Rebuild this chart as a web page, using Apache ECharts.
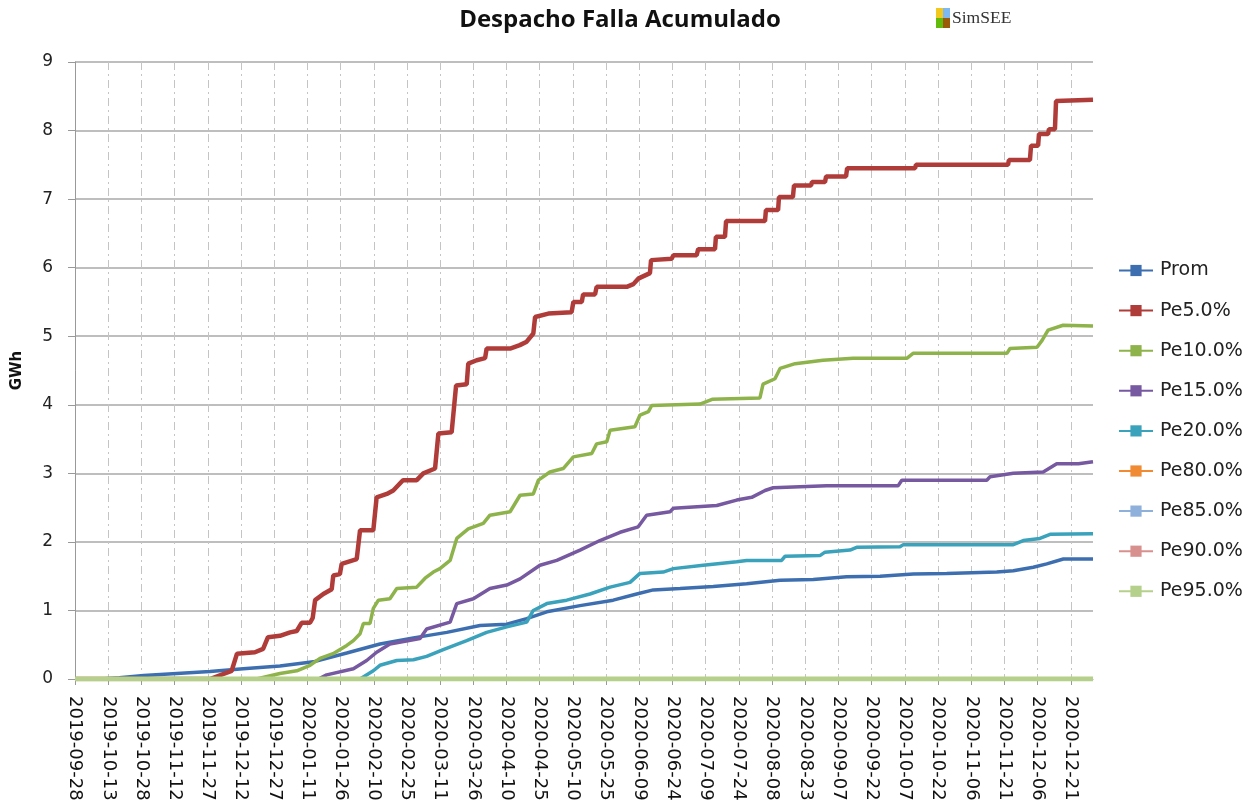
<!DOCTYPE html>
<html>
<head>
<meta charset="utf-8">
<title>Despacho Falla Acumulado</title>
<script src="https://cdn.jsdelivr.net/npm/echarts@6/dist/echarts.min.js"></script>
<style>
  html, body { margin: 0; padding: 0; background: #fff; }
  #chart { width: 1248px; height: 811px; }
</style>
</head>
<body>
<div id="chart"></div>
<script>
// dias desde 2019-09-28
const startDate = Date.UTC(2019, 8, 28)
const lastDay = 460

const promDays = [0, 12, 20, 31, 46, 61, 76, 92.6, 107.7, 122.8, 137.8, 152.9, 168, 183, 195.1, 204.1, 213.2, 228.2, 243.2, 253.8, 261.3, 273.4, 288.4, 303.5, 318.6, 333.6, 348.7, 363.8, 378.8, 393.9, 416.5, 424, 433, 439.1, 446.6, 460]
const promVals = [0, 0, 0.02, 0.05, 0.08, 0.11, 0.15, 0.19, 0.25, 0.38, 0.51, 0.6, 0.68, 0.78, 0.8, 0.88, 0.98, 1.07, 1.15, 1.24, 1.3, 1.32, 1.35, 1.39, 1.44, 1.45, 1.49, 1.5, 1.53, 1.54, 1.56, 1.58, 1.63, 1.68, 1.75, 1.75]

const pe5Days = [0, 61, 70.8, 73.2, 81.3, 85, 87.2, 92.6, 97.2, 100.2, 102.4, 106.2, 107.4, 108.5, 112.2, 116, 116.7, 119.7, 120.5, 127.3, 128.8, 134.8, 136.3, 140.9, 143.8, 148.2, 154.4, 157.4, 162.7, 164.2, 170.2, 172.2, 177, 177.7, 181.5, 185.3, 186, 196.6, 201, 204.1, 207.1, 207.9, 213.9, 224.4, 225.2, 229, 229.6, 235, 235.7, 249.3, 252.3, 254.5, 259.8, 260.3, 269.6, 270.4, 280.9, 281.6, 289.2, 289.6, 293.7, 294.2, 311.8, 312.2, 317.7, 318.1, 324.4, 324.9, 332.6, 333, 338.9, 339.4, 348.4, 348.9, 379.6, 380, 421.6, 422, 431.5, 432, 435.2, 435.6, 439.7, 440.1, 442.8, 443.3, 460]
const pe5Vals = [0, 0, 0.12, 0.37, 0.39, 0.44, 0.61, 0.63, 0.68, 0.7, 0.82, 0.82, 0.89, 1.15, 1.24, 1.31, 1.51, 1.53, 1.68, 1.75, 2.17, 2.17, 2.65, 2.7, 2.75, 2.9, 2.9, 3.0, 3.07, 3.58, 3.6, 4.28, 4.3, 4.6, 4.65, 4.68, 4.82, 4.82, 4.87, 4.92, 5.04, 5.28, 5.33, 5.35, 5.5, 5.5, 5.61, 5.61, 5.72, 5.72, 5.76, 5.84, 5.92, 6.11, 6.13, 6.18, 6.18, 6.27, 6.27, 6.45, 6.45, 6.68, 6.68, 6.84, 6.84, 7.03, 7.03, 7.2, 7.2, 7.25, 7.25, 7.33, 7.33, 7.45, 7.45, 7.5, 7.5, 7.57, 7.57, 7.78, 7.78, 7.95, 7.95, 8.02, 8.02, 8.43, 8.45]

const pe10Days = [0, 82, 92.6, 100.2, 106.2, 110.7, 116.6, 122.8, 125.8, 128.8, 130.3, 133.3, 134.8, 137.1, 142.3, 145.4, 154.4, 158.2, 161.9, 164.9, 169.5, 172.5, 177.7, 184.5, 187.5, 196.6, 201.1, 207.1, 209.4, 214.6, 220.6, 225.2, 233.5, 235.7, 240.3, 241.8, 253, 255.3, 259.1, 260.6, 282.4, 287.9, 309.5, 310.9, 316.3, 318.6, 325.4, 338, 351.6, 376, 378.7, 421.1, 422.5, 434.7, 437, 439.7, 446.5, 460]
const pe10Vals = [0, 0, 0.08, 0.12, 0.2, 0.3, 0.37, 0.49, 0.56, 0.66, 0.81, 0.81, 1.03, 1.15, 1.17, 1.32, 1.34, 1.47, 1.56, 1.61, 1.73, 2.05, 2.19, 2.27, 2.39, 2.44, 2.68, 2.7, 2.9, 3.02, 3.07, 3.24, 3.29, 3.43, 3.46, 3.63, 3.68, 3.85, 3.9, 3.99, 4.01, 4.08, 4.1, 4.3, 4.38, 4.53, 4.6, 4.65, 4.68, 4.68, 4.75, 4.75, 4.82, 4.84, 4.94, 5.09, 5.16, 5.15]

const pe15Days = [0, 110, 113.7, 125.8, 131.8, 136.3, 142.3, 155.9, 158.9, 169.5, 172.5, 180, 187.5, 195.1, 201.1, 210.1, 217.7, 228.2, 237.2, 246.3, 254.5, 258.3, 268.9, 270.4, 290, 299, 305.8, 311.8, 315.5, 339.7, 372, 373.6, 412, 413.5, 424, 437.5, 443.6, 453.4, 460]
const pe15Vals = [0, 0, 0.06, 0.15, 0.27, 0.39, 0.51, 0.59, 0.73, 0.83, 1.1, 1.17, 1.32, 1.37, 1.46, 1.66, 1.73, 1.88, 2.02, 2.14, 2.22, 2.39, 2.44, 2.49, 2.53, 2.61, 2.65, 2.75, 2.79, 2.82, 2.82, 2.9, 2.9, 2.95, 3.0, 3.02, 3.14, 3.14, 3.17]

const pe20Days = [0, 128.8, 134.8, 137.8, 145.4, 152.9, 158.9, 166.4, 177, 186, 195.1, 204.1, 207.1, 213.2, 222.2, 232.7, 241.8, 250.8, 255.3, 265.8, 270.4, 283.9, 299, 303.5, 319.3, 320.8, 336.6, 338.9, 350.2, 353.2, 372.8, 374.3, 424, 428.5, 436, 440.6, 460]
const pe20Vals = [0, 0, 0.12, 0.2, 0.27, 0.28, 0.33, 0.43, 0.56, 0.68, 0.76, 0.83, 1.0, 1.1, 1.15, 1.24, 1.34, 1.41, 1.54, 1.56, 1.61, 1.66, 1.71, 1.73, 1.73, 1.79, 1.8, 1.85, 1.88, 1.92, 1.93, 1.96, 1.96, 2.02, 2.05, 2.11, 2.12]

// Pe80 .. Pe95 quedan en cero todo el periodo
const zeroDays = [0, 460]
const zeroVals = [0, 0]

const seriesNames = ["Prom", "Pe5.0%", "Pe10.0%", "Pe15.0%", "Pe20.0%", "Pe80.0%", "Pe85.0%", "Pe90.0%", "Pe95.0%"]
const seriesColors = ["#3d6fb0", "#b03c39", "#8db34a", "#7659a0", "#3aa2bb", "#f08a33", "#8fb0da", "#d8908e", "#b5d08a"]
const lineWidths = [3.5, 4.5, 3.5, 3.5, 3.5, 4, 4, 4, 5]
const seriesDays = [promDays, pe5Days, pe10Days, pe15Days, pe20Days, zeroDays, zeroDays, zeroDays, zeroDays]
const seriesVals = [promVals, pe5Vals, pe10Vals, pe15Vals, pe20Vals, zeroVals, zeroVals, zeroVals, zeroVals]

function dayLabel(d){
  const dt = new Date(startDate + d * 86400000)
  const mm = String(dt.getUTCMonth() + 1).padStart(2, "0")
  const dd = String(dt.getUTCDate()).padStart(2, "0")
  return dt.getUTCFullYear() + "-" + mm + "-" + dd
}

const series = seriesNames.map((name, i) => ({
  name: name,
  type: "line",
  data: seriesDays[i].map((d, j) => [d, seriesVals[i][j]]),
  showSymbol: false,
  symbol: "rect",
  symbolSize: 5,
  lineStyle: { width: lineWidths[i], color: seriesColors[i] },
  itemStyle: { color: seriesColors[i] },
  animation: false
}))

const chart = echarts.init(document.getElementById("chart"))
chart.setOption({
  backgroundColor: "#fff",
  title: {
    text: "Despacho Falla Acumulado",
    left: 615,
    top: 3,
    textAlign: "center",
    textStyle: { fontFamily: "Open Sans", fontWeight: "bold", fontSize: 24, color: "#111" }
  },
  legend: {
    orient: "vertical",
    left: 1113,
    top: 256,
    itemWidth: 34,
    itemHeight: 14,
    itemGap: 21.1,
    textStyle: { fontFamily: "DejaVu Sans", fontSize: 19, color: "#222", padding: [0, 0, 0, 2] },
    data: seriesNames
  },
  grid: { left: 75, right: 155, top: 62, bottom: 132, outerBoundsMode: "none" },
  xAxis: {
    type: "value",
    min: 0,
    max: lastDay,
    interval: 15,
    axisLine: { lineStyle: { color: "#999" } },
    axisTick: { show: true, length: 6, lineStyle: { color: "#999" } },
    axisLabel: {
      rotate: -90,
      margin: 17,
      fontFamily: "DejaVu Sans",
      fontSize: 18,
      color: "#111",
      showMaxLabel: false,
      formatter: dayLabel
    },
    splitLine: {
      show: true,
      showMaxLine: false,
      lineStyle: { color: "#c4c4c4", type: [8, 4, 2, 4], width: 1 }
    }
  },
  yAxis: {
    type: "value",
    min: 0,
    max: 9,
    interval: 1,
    name: "GWh",
    nameLocation: "middle",
    nameGap: 50,
    nameTextStyle: { fontFamily: "DejaVu Sans", fontWeight: "bold", fontSize: 15, color: "#111" },
    axisLine: { show: true, lineStyle: { color: "#999" } },
    axisTick: { show: true, length: 7, lineStyle: { color: "#999" } },
    axisLabel: { margin: 22, fontFamily: "DejaVu Sans", fontSize: 17, color: "#222" },
    splitLine: { lineStyle: { color: "#a8a8a8", width: 1.5 } }
  },
  graphic: [
    { type: "rect", shape: { x: 936, y: 8, width: 7, height: 10 }, style: { fill: "#f2c81e" } },
    { type: "rect", shape: { x: 943, y: 8, width: 7, height: 10 }, style: { fill: "#7db9f0" } },
    { type: "rect", shape: { x: 936, y: 18, width: 7, height: 10 }, style: { fill: "#62bb0a" } },
    { type: "rect", shape: { x: 943, y: 18, width: 7, height: 10 }, style: { fill: "#9a5a08" } },
    { type: "text", left: 952, top: 9, style: { text: "SimSEE", fontFamily: "Liberation Serif", fontSize: 17.5, fill: "#333" } }
  ],
  series: series
})
</script>
</body>
</html>
